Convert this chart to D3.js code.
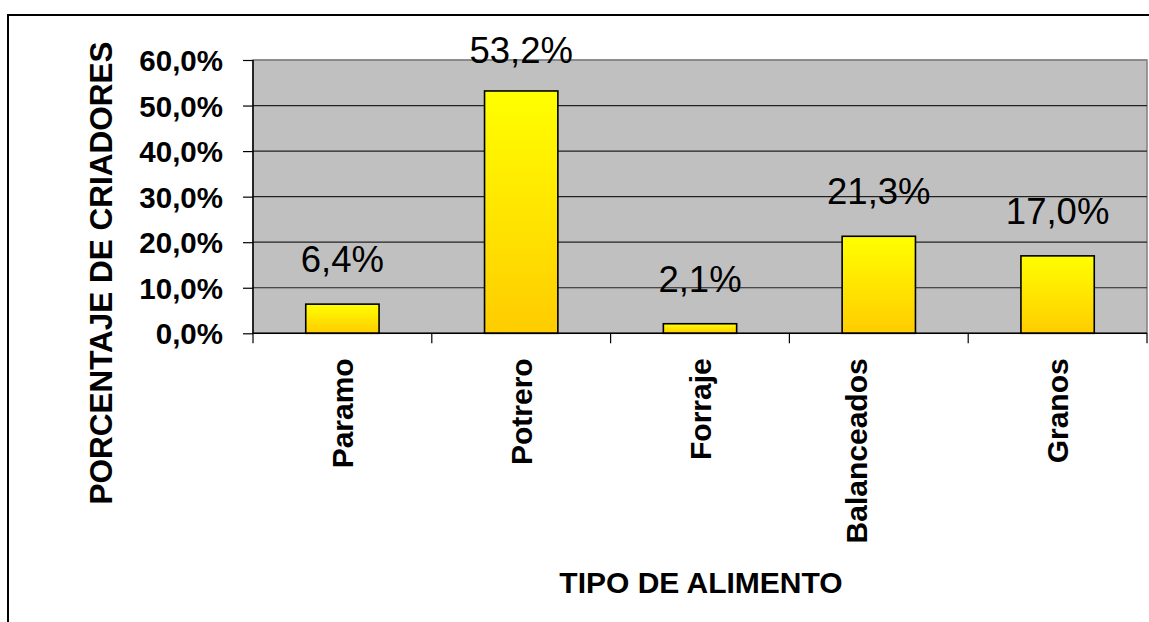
<!DOCTYPE html>
<html>
<head>
<meta charset="utf-8">
<script src="https://cdn.jsdelivr.net/npm/d3@7"></script>
<style>
	body { margin: 0; background: #fff; }
	svg { display: block; font-family: Arial, "Liberation Sans", sans-serif; }
</style>
</head>
<body>
<svg id="chart" width="1149" height="622"></svg>
<script>

//data
var categorias = ["Paramo", "Potrero", "Forraje", "Balanceados", "Granos"];
var porcentajes = [0.064, 0.532, 0.021, 0.213, 0.170];
var ticksY = [0, 0.1, 0.2, 0.3, 0.4, 0.5, 0.6];

var tituloY = "PORCENTAJE DE CRIADORES",
	tituloX = "TIPO DE ALIMENTO";

//main variables
var svg = d3.select("#chart"),
	plotLeft = 253,
	plotRight = 1147,
	plotTop = 60,
	plotBottom = 333.3;

//comma decimal formatting
var locale = d3.formatLocale({decimal: ",", thousands: ".", grouping: [3], currency: ["", ""]}),
	fmt = locale.format(".1%");

var x = d3.scaleBand().domain(categorias).range([plotLeft, plotRight]).paddingInner(0).paddingOuter(0),
	y = d3.scaleLinear().domain([0, 0.6]).range([plotBottom, plotTop]);

var barW = x.bandwidth() * 0.41;

//gradient for bars
var defs = svg.append("defs");
var grad = defs.append("linearGradient")
	.attr("id", "barGrad")
	.attr("x1", 0).attr("y1", 0).attr("x2", 0).attr("y2", 1);
grad.append("stop").attr("offset", "0%").attr("stop-color", "#FFFF00");
grad.append("stop").attr("offset", "100%").attr("stop-color", "#FFCC00");

//outer chart border (runs off the page right and bottom)
svg.append("rect")
	.attr("x", 8).attr("y", 15)
	.attr("width", 1300).attr("height", 800)
	.attr("fill", "none")
	.attr("stroke", "#000")
	.attr("stroke-width", 2);

//--------------PLOT AREA-----------------------------------------
svg.append("rect")
	.attr("x", plotLeft).attr("y", plotTop)
	.attr("width", plotRight - plotLeft).attr("height", plotBottom - plotTop)
	.attr("fill", "#C0C0C0")
	.attr("stroke", "#808080")
	.attr("stroke-width", 1.5);

//gridlines
svg.append("g")
	.attr("class", "grid")
	.selectAll("line")
	.data(ticksY.slice(1))
	.enter().append("line")
	.attr("x1", plotLeft).attr("x2", plotRight)
	.attr("y1", function(d){ return y(d); })
	.attr("y2", function(d){ return y(d); })
	.attr("stroke", function(d){ return d === 0.6 ? "#808080" : "#222"; })
	.attr("stroke-width", 1.2);

//--------------BARS-----------------------------------------
svg.append("g")
	.attr("class", "bars")
	.selectAll("rect")
	.data(porcentajes)
	.enter().append("rect")
	.attr("x", function(d, i){ return x(categorias[i]) + x.bandwidth() / 2 - barW / 2; })
	.attr("y", function(d){ return y(d); })
	.attr("width", barW)
	.attr("height", function(d){ return y(0) - y(d); })
	.attr("fill", "url(#barGrad)")
	.attr("stroke", "#000")
	.attr("stroke-width", 1.6);

//data labels
svg.append("g")
	.attr("class", "labels")
	.selectAll("text")
	.data(porcentajes)
	.enter().append("text")
	.attr("x", function(d, i){ return x(categorias[i]) + x.bandwidth() / 2; })
	.attr("y", function(d){ return Math.max(y(d) - 32, plotTop + 3); })
	.attr("text-anchor", "middle")
	.attr("font-size", 36.5)
	.attr("fill", "#000")
	.text(function(d){ return fmt(d); });

//--------------AXES-----------------------------------------
var axisY = d3.axisLeft(y)
	.tickValues(ticksY)
	.tickSize(10)
	.tickPadding(20)
	.tickFormat(fmt);

var gY = svg.append("g")
	.attr("transform", "translate(" + plotLeft + ",0)")
	.call(axisY);
gY.select(".domain").attr("stroke", "#000").attr("stroke-width", 1.5).attr("d", "M0," + plotTop + "V" + plotBottom);
gY.selectAll(".tick line").attr("stroke", "#000").attr("stroke-width", 1.2);
gY.selectAll(".tick text")
	.attr("font-size", 29.5)
	.attr("font-weight", "bold")
	.attr("font-family", "Arial, 'Liberation Sans', sans-serif")
	.attr("dy", "0.36em")
	.attr("fill", "#000");

//x axis ticks on band edges
var edges = categorias.map(function(c){ return x(c); }).concat([plotRight]);

var gX = svg.append("g").attr("class", "x-axis");
gX.append("line")
	.attr("x1", plotLeft).attr("x2", plotRight)
	.attr("y1", plotBottom).attr("y2", plotBottom)
	.attr("stroke", "#000").attr("stroke-width", 1.5);
gX.selectAll(".xtick")
	.data(edges)
	.enter().append("line")
	.attr("class", "xtick")
	.attr("x1", function(d){ return d; }).attr("x2", function(d){ return d; })
	.attr("y1", plotBottom).attr("y2", plotBottom + 10)
	.attr("stroke", "#000").attr("stroke-width", 1.2);

//category labels (rotated) - the long one sits a bit left in the original
gX.selectAll(".xlabel")
	.data(categorias)
	.enter().append("text")
	.attr("class", "xlabel")
	.attr("transform", function(d){
		var nudge = d === "Balanceados" ? -22 : 0;
		return "translate(" + (x(d) + x.bandwidth() / 2 + 10.5 + nudge) + "," + (plotBottom + 25) + ") rotate(-90)";
	})
	.attr("text-anchor", "end")
	.attr("font-size", 30)
	.attr("font-weight", "bold")
	.attr("fill", "#000")
	.text(function(d){ return d; });

//axis titles
svg.append("text")
	.attr("transform", "translate(112,273) rotate(-90)")
	.attr("text-anchor", "middle")
	.attr("font-size", 31.5)
	.attr("font-weight", "bold")
	.text(tituloY);

svg.append("text")
	.attr("x", 701)
	.attr("y", 593)
	.attr("text-anchor", "middle")
	.attr("font-size", 30)
	.attr("font-weight", "bold")
	.text(tituloX);

</script>
</body>
</html>
